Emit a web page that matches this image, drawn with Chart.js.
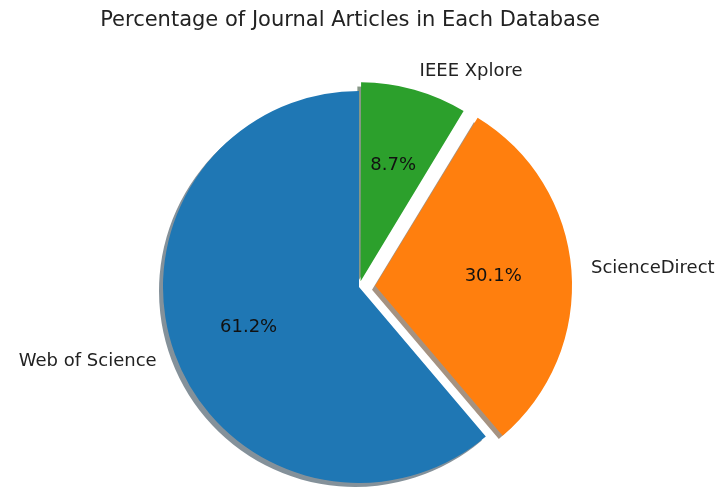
<!DOCTYPE html>
<html>
<head>
<meta charset="utf-8">
<script src="https://cdn.jsdelivr.net/npm/chart.js@4/dist/chart.umd.min.js"></script>
<style>
  body { margin: 0; background: #fff; }
  #wrap { width: 722px; height: 488px; }
</style>
</head>
<body>
<div id="wrap"><canvas id="pie" width="722" height="488"></canvas></div>
<script>
// Drawing order (Chart.js goes clockwise from the top)
const labels = ['IEEE Xplore', 'ScienceDirect', 'Web of Science'];
const shares = [8.7, 30.1, 61.2];
const colors = ['#2ca02c', '#ff7f0e', '#1f77b4'];
const explode = [24, 65, 0];

const TITLE = 'Percentage of Journal Articles in Each Database';
const FONT = '"DejaVu Sans", sans-serif';

// where an arc really sits once Chart.js applies its offset
function arcCenter(arc) {
  const half = (arc.startAngle + arc.endAngle) / 2;
  const off = (arc.options.offset || 0) / 4;
  const fix = 1 - Math.sin(Math.min(Math.PI, arc.circumference || 0));
  const t = off * (1 + fix);
  return { x: arc.x + Math.cos(half) * t, y: arc.y + Math.sin(half) * t, half };
}

// matplotlib style shadow: 0.3 * face colour, alpha 0.5, shifted left/down
const shadowPlugin = {
  id: 'shadow',
  beforeDatasetsDraw(chart) {
    const ctx = chart.ctx;
    const meta = chart.getDatasetMeta(0);
    meta.data.forEach((arc, i) => {
      const c = arcCenter(arc);
      const hex = colors[i];
      const r = parseInt(hex.slice(1, 3), 16) * 0.3;
      const g = parseInt(hex.slice(3, 5), 16) * 0.3;
      const b = parseInt(hex.slice(5, 7), 16) * 0.3;
      ctx.save();
      ctx.fillStyle = `rgba(${r | 0}, ${g | 0}, ${b | 0}, 0.5)`;
      ctx.beginPath();
      ctx.moveTo(c.x - 4, c.y + 4);
      ctx.arc(c.x - 4, c.y + 4, arc.outerRadius, arc.startAngle, arc.endAngle);
      ctx.closePath();
      ctx.fill();
      ctx.restore();
    });
  }
};

// title, slice names and percentages
const textPlugin = {
  id: 'pieText',
  afterDatasetsDraw(chart) {
    const ctx = chart.ctx;
    const meta = chart.getDatasetMeta(0);
    ctx.save();
    ctx.fillStyle = '#222';
    ctx.textBaseline = 'middle';
    ctx.textAlign = 'center';
    ctx.font = `21px ${FONT}`;
    ctx.fillText(TITLE, 350, 21);

    ctx.font = `18px ${FONT}`;
    meta.data.forEach((arc, i) => {
      const c = arcCenter(arc);
      const r = arc.outerRadius;
      const cos = Math.cos(c.half), sin = Math.sin(c.half);
      ctx.fillStyle = '#222';
      ctx.textAlign = cos > 0 ? 'left' : 'right';
      ctx.fillText(labels[i], c.x + cos * r * 1.1, c.y + sin * r * 1.1);
      ctx.fillStyle = '#111';
      ctx.textAlign = 'center';
      ctx.fillText(shares[i].toFixed(1) + '%', c.x + cos * r * 0.6, c.y + sin * r * 0.6);
    });
    ctx.restore();
  }
};

new Chart(document.getElementById('pie'), {
  type: 'pie',
  data: {
    labels: labels,
    datasets: [{
      data: shares,
      backgroundColor: colors,
      borderWidth: 0,
      offset: explode,
      clip: false
    }]
  },
  options: {
    responsive: false,
    animation: false,
    radius: 196,
    layout: { padding: { top: 86, right: 4, bottom: 0, left: 0 } },
    plugins: {
      legend: { display: false },
      title: { display: false },
      tooltip: { enabled: false }
    }
  },
  plugins: [shadowPlugin, textPlugin]
});
</script>
</body>
</html>
